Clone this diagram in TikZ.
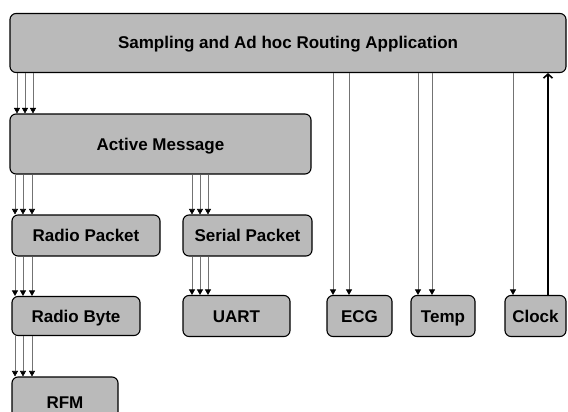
\documentclass[tikz,border=0pt]{standalone}
\usepackage{fontspec}
\setmainfont{Liberation Sans}
\usetikzlibrary{arrows.meta}
\begin{document}
\begin{tikzpicture}[x=1pt,y=-1pt,
  layer/.style={draw=black, line width=1.1pt, rounded corners=6pt, fill=black!27,
    inner sep=0pt, text height=14.6pt, text depth=2.6pt,
    font=\bfseries\fontsize{17}{20}\selectfont},
  down/.style={draw=black!55, line width=0.6pt,
    -{Triangle[width=6pt,length=5.5pt,color=black]}},
  up/.style={draw=black, line width=1.6pt, -{Straight Barb[length=4pt,width=9pt]}}]
\clip (0,0) rectangle (568,412);
\fill[white] (0,0) rectangle (568,412);

% component layers
\node[layer, minimum width=556pt, minimum height=59pt] (app)   at (288,43)    {Sampling and Ad hoc Routing Application};
\node[layer, minimum width=301pt, minimum height=60pt] (am)    at (160.5,144) {Active Message};
\node[layer, minimum width=148pt, minimum height=41pt] (rp)    at (86,235.5)  {Radio Packet};
\node[layer, minimum width=129pt, minimum height=41pt] (sp)    at (247.5,235.5) {Serial Packet};
\node[layer, minimum width=128pt, minimum height=39pt] (rb)    at (76,316)    {Radio Byte};
\node[layer, minimum width=107pt, minimum height=41pt] (uart)  at (236.5,316) {UART};
\node[layer, minimum width=106pt, minimum height=50pt] (rfm)   at (65,402)    {RFM};
\node[layer, minimum width=65pt,  minimum height=41pt] (ecg)   at (359.5,316) {ECG};
\node[layer, minimum width=64pt,  minimum height=41pt] (temp)  at (443,316)   {Temp};
\node[layer, minimum width=61pt,  minimum height=41pt] (clock) at (535.5,316) {Clock};

% command / event wiring
\foreach \x in {17,25,33}  \draw[down] (\x,0 |- app.south) -- (\x,0 |- am.north);
\foreach \x in {15,23,32}  \draw[down] (\x,0 |- am.south)  -- (\x,0 |- rp.north);
\foreach \x in {192,200,208} \draw[down] (\x,0 |- am.south) -- (\x,0 |- sp.north);
\foreach \x in {15,23,32}  \draw[down] (\x,0 |- rp.south)  -- (\x,0 |- rb.north);
\foreach \x in {192,200,208} \draw[down] (\x,0 |- sp.south) -- (\x,0 |- uart.north);
\foreach \x in {15,23,32}  \draw[down] (\x,0 |- rb.south)  -- (\x,0 |- rfm.north);
\foreach \x in {333,349}   \draw[down] (\x,0 |- app.south) -- (\x,0 |- ecg.north);
\foreach \x in {418,432}   \draw[down] (\x,0 |- app.south) -- (\x,0 |- temp.north);
\draw[down] (513,0 |- app.south) -- (513,0 |- clock.north);
\draw[up] (548,0 |- clock.north) -- (548,0 |- app.south);
\end{tikzpicture}
\end{document}
